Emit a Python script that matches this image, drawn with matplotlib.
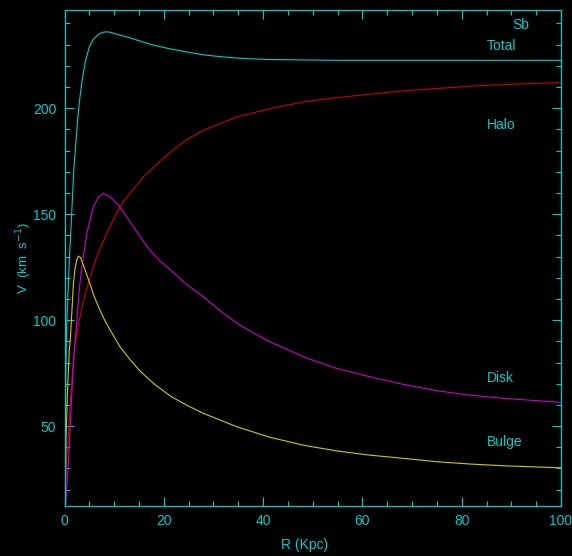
import matplotlib
matplotlib.use("Agg")
import matplotlib.pyplot as plt
from matplotlib.ticker import MultipleLocator

plt.rcParams["font.family"] = ["Liberation Sans", "DejaVu Sans"]

# rotation curve components (R in Kpc, V in km/s)
r_total = [0.05, 0.1, 0.2, 0.3, 0.44, 0.7, 1.0, 1.3, 1.6, 1.9, 2.3, 2.7, 3.1, 3.6,
           4.2, 5.0, 5.8, 7.0, 8.0, 9.0, 10.5, 12.0, 13.5, 15.5, 17.5, 21.3, 24.0,
           28.0, 32.0, 36.0, 41.0, 48.0, 55.0, 65.0, 80.0, 100.0]
v_total = [22, 40, 62, 80, 98, 112, 130, 143, 158, 172, 184, 196, 205, 214,
           222, 229, 232.5, 235.2, 236, 236, 235, 234, 233, 231.5, 230, 228, 226.8,
           225.2, 224.2, 223.5, 223.0, 222.8, 222.6, 222.6, 222.6, 222.6]

r_halo = [0.05, 0.3, 0.5, 0.77, 1.1, 1.6, 2.1, 2.8, 3.8, 5.1, 6.5, 8.5, 10.8,
          12.0, 13.2, 15.9, 19.0, 21.3, 24.5, 28.0, 34.7, 41.4, 48.1, 54.8, 61.5, 68.2,
          75.0, 81.7, 88.4, 100.0]
v_halo = [20, 27, 36, 45, 58, 76, 88, 98, 109, 120, 130, 141, 152,
          156.5, 160, 167.6, 174.5, 179.2, 185, 189.6, 195.9, 199.8, 203, 205, 206.6, 208.2,
          209.3, 210.4, 211.2, 212.1]

r_disk = [0.2, 0.44, 0.77, 1.1, 1.45, 1.8, 2.1, 2.45, 2.8, 3.1, 3.8, 4.5, 5.8,
          6.8, 7.8, 9.0, 10.8, 12.3, 13.9, 15.5, 17.2, 19.2, 21.3, 24.5, 28.0, 31.3,
          34.7, 38.0, 41.4, 48.1, 54.8, 61.5, 68.2, 75.0, 81.7, 88.4, 100.0]
v_disk = [12, 20, 32, 48, 64, 80, 89, 98.4, 109.4, 117.3, 130, 141, 153.4,
          158, 159.8, 158.5, 154.5, 149.5, 144, 138.5, 133, 128, 123.8, 117, 111, 104.5,
          98.6, 94, 89.8, 82.7, 77.2, 73.3, 69.7, 66.7, 64.6, 63.1, 61.2]

r_bulge = [0.05, 0.17, 0.3, 0.56, 0.97, 1.25, 1.5, 1.8, 2.1, 2.45, 2.8, 3.2, 3.8,
           4.4, 5.1, 6.0, 7.15, 8.2, 9.2, 11.2, 13.0, 15.2, 18.0, 21.3, 24.5, 28.0,
           34.7, 41.4, 48.1, 54.8, 61.5, 68.2, 75.0, 81.7, 88.3, 100.0]
v_bulge = [14, 24.5, 43.4, 63.8, 85.8, 93.7, 104.7, 117.3, 124, 128.3, 130.2, 129.6, 126,
           122, 117.3, 111, 104.7, 99.5, 95.3, 87.4, 82, 76, 70, 64.2, 60, 56,
           49.7, 44.7, 41, 38.3, 36.3, 34.8, 33.2, 32.1, 31.3, 30.3]

labels = ["Total", "Halo", "Disk", "Bulge"]
label_r = [85.0, 85.0, 85.0, 85.0]
label_v = [229.4, 192.3, 72.8, 42.6]

cyan = "#00cccc"

fig = plt.figure(figsize=(5.72, 5.56), dpi=100, facecolor="black")
ax = fig.add_axes([64.5 / 572, 1 - 506 / 556, (561 - 64.5) / 572, (506 - 9.5) / 556])
ax.set_facecolor("black")

ax.plot(r_halo, v_halo, color="#cc0000", lw=0.8)
ax.plot(r_disk, v_disk, color="#cc00cc", lw=0.8)
ax.plot(r_bulge, v_bulge, color="#cccc00", lw=0.8)
ax.plot(r_total, v_total, color=cyan, lw=0.8)

ax.set_xlim(0, 100)
ax.set_ylim(12.3, 246.6)

ax.xaxis.set_major_locator(MultipleLocator(20))
ax.xaxis.set_minor_locator(MultipleLocator(5))
ax.yaxis.set_major_locator(MultipleLocator(50))
ax.yaxis.set_minor_locator(MultipleLocator(10))
ax.tick_params(which="both", direction="in", top=True, right=True,
               colors=cyan, labelcolor=cyan, labelsize=10, width=0.8)
ax.tick_params(which="major", length=6.5, pad=6)
ax.tick_params(which="minor", length=3.6)
for s in ax.spines.values():
    s.set_color(cyan)
    s.set_linewidth(0.9)

ax.set_xlabel("R (Kpc)", color=cyan, fontsize=10)
ax.xaxis.set_label_coords(0.484, -0.064)
ax.set_ylabel("V  (km  s$^{-1}$)", color=cyan, fontsize=9.5)
ax.yaxis.set_label_coords(-0.062, 0.5)

for name, lr, lv in zip(labels, label_r, label_v):
    ax.text(lr, lv, name, color=cyan, fontsize=10, va="center", ha="left")
ax.text(90.1, 239.2, "Sb", color=cyan, fontsize=10, va="center", ha="left")

fig.savefig("out.png", dpi=100, facecolor="black")
